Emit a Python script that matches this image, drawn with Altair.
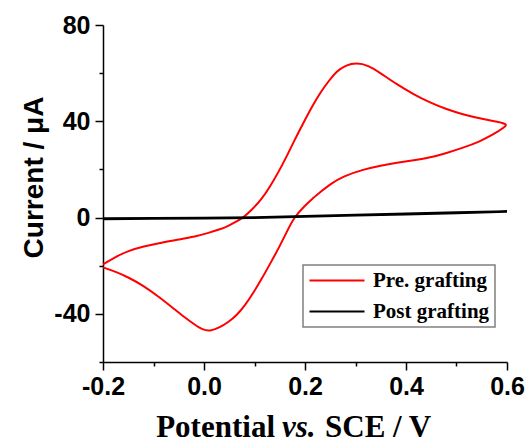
import altair as alt
import pandas as pd

# ---- data (potential in V vs SCE, current in uA) ----
pre_x = [-0.2, -0.175, -0.15, -0.12, -0.084, -0.05, -0.018, 0.01, 0.03, 0.048, 0.065,
         0.078, 0.095, 0.114, 0.131, 0.147, 0.164, 0.18, 0.197, 0.213, 0.23, 0.247,
         0.263, 0.28, 0.302, 0.325, 0.349, 0.382, 0.415, 0.448, 0.48, 0.513, 0.555,
         0.585, 0.6,
         0.596, 0.573, 0.545, 0.513, 0.48, 0.448, 0.415, 0.382, 0.35, 0.316, 0.276,
         0.249, 0.23, 0.213, 0.2, 0.178, 0.165, 0.147, 0.13, 0.114, 0.097, 0.081,
         0.065, 0.048, 0.03, 0.012, -0.003, -0.018, -0.04, -0.06, -0.09, -0.12,
         -0.15, -0.175, -0.2]
pre_y = [-19.5, -16.3, -13.8, -12.0, -10.4, -9.1, -7.9, -6.3, -5.0, -3.5, -1.5,
         0.0, 3.3, 7.6, 13.0, 18.7, 25.5, 32.5, 39.4, 45.8, 51.8, 56.8,
         60.8, 63.3, 64.3, 63.3, 60.1, 55.3, 51.2, 47.7, 45.0, 42.8, 40.8,
         39.7, 38.8,
         37.6, 34.5, 31.5, 29.0, 26.8, 24.9, 23.8, 22.8, 21.6, 20.0, 17.2,
         13.8, 10.5, 7.6, 5.0, 0.0, -5.5, -13.1, -19.5, -25.6, -31.5, -36.6,
         -40.5, -43.5, -45.8, -47.2, -46.6, -44.5, -41.2, -37.8, -32.8, -28.3,
         -24.8, -22.5, -20.7]

post_x = [-0.2, -0.1, 0.0, 0.1, 0.2, 0.3, 0.4, 0.5, 0.6,
          0.5, 0.4, 0.3, 0.2, 0.1, 0.0, -0.1, -0.2]
post_y = [-0.6, -0.45, -0.35, -0.1, 0.4, 0.9, 1.4, 1.9, 2.5,
          2.1, 1.6, 1.1, 0.6, 0.1, -0.2, -0.3, -0.4]

series_names = ["Pre. grafting", "Post grafting"]
series_colors = ["#ff0000", "#000000"]

x_ticks = [-0.2, -0.1, 0.0, 0.1, 0.2, 0.3, 0.4, 0.5, 0.6]
y_ticks = [-60, -40, -20, 0, 20, 40, 60, 80]

x_title_parts = ["Potential", "vs.", "SCE / V"]
y_title = "Current / \u03bcA"

pre_df = pd.DataFrame({"E": pre_x, "I": pre_y, "k": list(range(len(pre_x))),
                       "series": series_names[0]})
post_df = pd.DataFrame({"E": post_x, "I": post_y, "k": list(range(len(post_x))),
                        "series": series_names[1]})

SANS = "Liberation Sans"
SERIF = "Liberation Serif"

x_minor = "round(datum.value*10) % 2 != 0"
y_minor = "datum.value % 40 != 0"

x_enc = alt.X(
    "E:Q",
    scale=alt.Scale(domain=[-0.2, 0.6], nice=False, zero=False),
    axis=alt.Axis(
        values=x_ticks, title=None, grid=False, labelFlush=False, labelOverlap=False,
        labelExpr=f"{x_minor} ? '' : (datum.value < 0 ? '-' + format(-datum.value, '.1f') : format(datum.value, '.1f'))",
        tickSize={"condition": {"test": x_minor, "value": 4}, "value": 8},
        labelPadding=4,
    ),
)
y_enc = alt.Y(
    "I:Q",
    scale=alt.Scale(domain=[-60, 80], nice=False, zero=False),
    axis=alt.Axis(
        values=y_ticks, title=y_title, grid=False, labelFlush=False, labelOverlap=False,
        labelExpr=f"{y_minor} ? '' : (datum.value < 0 ? '-' + format(-datum.value, 'd') : format(datum.value, 'd'))",
        tickSize={"condition": {"test": y_minor, "value": 4}, "value": 8},
        labelPadding=5,
        titleFont=SANS, titleFontWeight="bold", titleFontSize=28, titleColor="black",
        titleAngle=-90, titleBaseline="alphabetic", titleAlign="center",
        titleX=-61, titleY=152,
    ),
)

color = alt.Color(
    "series:N",
    scale=alt.Scale(domain=series_names, range=series_colors),
    legend=alt.Legend(
        title=None, orient="none", legendX=200, legendY=240, direction="vertical",
        symbolType="stroke", symbolSize=3025, symbolStrokeWidth=2.2,
        labelFont=SERIF, labelFontWeight="bold", labelFontSize=21, labelColor="black",
        labelOffset=7, clipHeight=21, rowPadding=9, padding=5,
        strokeColor="#808080", fillColor="white",
    ),
)

pre_line = alt.Chart(pre_df).mark_line(strokeWidth=2, interpolate="basis").encode(
    x=x_enc, y=y_enc, color=color, order=alt.Order("k:Q")
)
post_line = alt.Chart(post_df).mark_line(strokeWidth=2.4).encode(
    x=x_enc, y=y_enc, color=color, order=alt.Order("k:Q")
)

title_df1 = pd.DataFrame({"t": [x_title_parts[0]]})
title_df2 = pd.DataFrame({"t": [x_title_parts[1]]})
title_df3 = pd.DataFrame({"t": [x_title_parts[2]]})
TY = 412
FS = 31
t1 = alt.Chart(title_df1).mark_text(font=SERIF, fontWeight="bold", fontSize=FS, align="right",
                                    baseline="alphabetic", color="black").encode(
    text="t:N", x=alt.value(172), y=alt.value(TY))
t2 = alt.Chart(title_df2).mark_text(font=SERIF, fontWeight="bold", fontStyle="italic", fontSize=FS,
                                    align="left", baseline="alphabetic", color="black").encode(
    text="t:N", x=alt.value(179), y=alt.value(TY))
t3 = alt.Chart(title_df3).mark_text(font=SERIF, fontWeight="bold", fontSize=FS, align="left",
                                    baseline="alphabetic", color="black").encode(
    text="t:N", x=alt.value(222), y=alt.value(TY))

chart = alt.layer(pre_line, post_line, t1, t2, t3).properties(
    width=404, height=337,
    padding={"left": 103, "top": 25, "right": 20, "bottom": 83},
    autosize=alt.AutoSizeParams(type="none"),
    background="white",
).configure_view(stroke=None).configure_axis(
    domainColor="black", domainWidth=1.5, tickColor="black", tickWidth=1.5,
    labelFont=SANS, labelFontWeight="bold", labelFontSize=25, labelColor="black",
).configure_legend(strokeWidth=1.5)

chart.save("out.html", embed_options={"renderer": "svg", "actions": False})
